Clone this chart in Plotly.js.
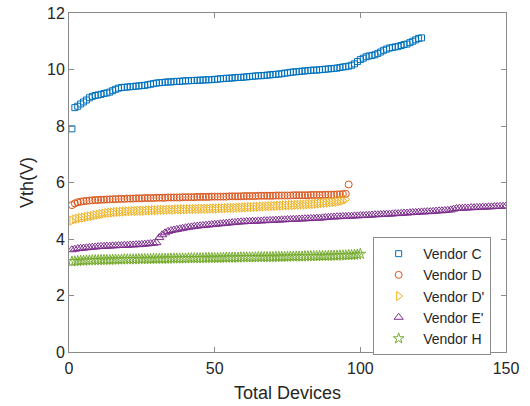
<!DOCTYPE html>
<html><head><meta charset="utf-8">
<script src="https://cdn.plot.ly/plotly-3.0.1.min.js"></script>
<style>html,body{margin:0;padding:0;background:#fff}#chart{width:530px;height:406px}</style>
</head><body><div id="chart"></div>
<script>
const seriesNames = ["Vendor C", "Vendor D", "Vendor D'", "Vendor E'", "Vendor H"];
const xTicks = [0, 50, 100, 150];
const yTicks = [0, 2, 4, 6, 8, 10, 12];

const vendorC = [7.9,8.65,8.7,8.78,8.85,8.92,9.0,9.05,9.08,9.1,
9.12,9.15,9.17,9.2,9.25,9.3,9.34,9.36,9.37,9.38,
9.39,9.4,9.41,9.42,9.43,9.44,9.46,9.48,9.5,9.52,
9.53,9.54,9.55,9.56,9.56,9.57,9.58,9.58,9.59,9.6,
9.6,9.61,9.61,9.62,9.62,9.63,9.63,9.64,9.64,9.65,
9.66,9.67,9.68,9.69,9.69,9.7,9.71,9.72,9.72,9.73,
9.74,9.75,9.76,9.77,9.78,9.78,9.79,9.8,9.81,9.82,
9.83,9.84,9.85,9.87,9.88,9.9,9.91,9.92,9.93,9.94,
9.95,9.96,9.97,9.98,9.98,9.99,10.0,10.01,10.02,10.03,
10.04,10.05,10.07,10.09,10.1,10.12,10.15,10.2,10.28,10.35,
10.4,10.45,10.48,10.5,10.52,10.57,10.62,10.68,10.72,10.76,
10.78,10.8,10.82,10.85,10.88,10.9,10.95,11.0,11.05,11.1,11.12];

const vendorD = [5.2,5.26,5.3,5.32,5.34,5.35,5.36,5.37,5.38,5.38,
5.39,5.39,5.4,5.4,5.41,5.41,5.42,5.42,5.42,5.43,
5.43,5.43,5.44,5.44,5.44,5.45,5.45,5.45,5.45,5.46,
5.46,5.46,5.46,5.47,5.47,5.47,5.47,5.47,5.48,5.48,
5.48,5.48,5.48,5.49,5.49,5.49,5.49,5.49,5.5,5.5,
5.5,5.5,5.5,5.5,5.51,5.51,5.51,5.51,5.51,5.52,
5.52,5.52,5.52,5.52,5.53,5.53,5.53,5.53,5.53,5.53,
5.54,5.54,5.54,5.54,5.54,5.54,5.55,5.55,5.55,5.55,
5.55,5.55,5.56,5.56,5.56,5.56,5.56,5.57,5.57,5.57,
5.57,5.58,5.58,5.59,5.6,5.93];

const vendorDp = [4.65,4.7,4.72,4.74,4.76,4.78,4.8,4.82,4.84,4.86,
4.88,4.9,4.92,4.93,4.94,4.95,4.96,4.97,4.97,4.98,
4.98,4.99,4.99,5.0,5.0,5.0,5.01,5.01,5.02,5.02,
5.03,5.03,5.03,5.04,5.04,5.04,5.05,5.05,5.05,5.05,
5.06,5.06,5.06,5.06,5.07,5.07,5.07,5.07,5.08,5.08,
5.08,5.09,5.09,5.09,5.1,5.1,5.1,5.11,5.11,5.12,
5.12,5.13,5.13,5.14,5.14,5.15,5.15,5.16,5.16,5.17,
5.17,5.18,5.18,5.19,5.19,5.2,5.2,5.21,5.21,5.22,
5.22,5.23,5.24,5.24,5.25,5.26,5.27,5.28,5.29,5.3,
5.31,5.32,5.34,5.36,5.4];

const vendorEp = [3.62,3.64,3.66,3.67,3.68,3.69,3.7,3.71,3.72,3.73,
3.74,3.74,3.75,3.75,3.76,3.76,3.77,3.77,3.78,3.78,
3.79,3.79,3.8,3.8,3.81,3.82,3.83,3.84,3.85,3.87,
4.05,4.15,4.22,4.27,4.3,4.32,4.34,4.36,4.38,4.4,
4.42,4.43,4.45,4.46,4.47,4.48,4.49,4.5,4.51,4.52,
4.53,4.54,4.55,4.56,4.57,4.58,4.59,4.6,4.61,4.61,
4.62,4.62,4.63,4.63,4.64,4.64,4.65,4.65,4.66,4.66,
4.67,4.67,4.68,4.68,4.69,4.69,4.7,4.7,4.71,4.71,
4.72,4.72,4.73,4.73,4.74,4.74,4.75,4.76,4.77,4.78,
4.78,4.79,4.79,4.8,4.8,4.81,4.81,4.82,4.82,4.83,
4.83,4.84,4.84,4.85,4.86,4.86,4.87,4.87,4.88,4.88,
4.89,4.9,4.9,4.91,4.92,4.92,4.93,4.94,4.94,4.95,
4.96,4.96,4.97,4.97,4.98,4.99,5.0,5.0,5.01,5.02,
5.03,5.06,5.08,5.09,5.09,5.1,5.1,5.11,5.11,5.12,
5.12,5.13,5.13,5.14,5.14,5.15,5.15,5.16,5.16,5.17];

const vendorH = [3.2,3.21,3.22,3.23,3.23,3.24,3.24,3.25,3.25,3.25,
3.26,3.26,3.26,3.26,3.27,3.27,3.27,3.27,3.28,3.28,
3.28,3.28,3.28,3.29,3.29,3.29,3.29,3.29,3.3,3.3,
3.3,3.3,3.3,3.3,3.31,3.31,3.31,3.31,3.31,3.31,
3.32,3.32,3.32,3.32,3.32,3.32,3.33,3.33,3.33,3.33,
3.33,3.33,3.34,3.34,3.34,3.34,3.34,3.34,3.35,3.35,
3.35,3.35,3.35,3.35,3.36,3.36,3.36,3.36,3.36,3.36,
3.37,3.37,3.37,3.37,3.37,3.38,3.38,3.38,3.38,3.38,
3.39,3.39,3.39,3.39,3.39,3.4,3.4,3.4,3.4,3.41,
3.41,3.41,3.42,3.42,3.42,3.43,3.43,3.44,3.45,3.47];

const seriesValues = [vendorC, vendorD, vendorDp, vendorEp, vendorH];
const colors = ['#0072BD', '#D95319', '#EDB120', '#7E2F8E', '#77AC30'];
const symbols = ['square-open', 'circle-open', 'triangle-right-open', 'triangle-up-open', 'star-open'];
const sizes = [6, 7, 8, 8, 8];

const traces = seriesValues.map((vals, i) => ({
  type: 'scatter', mode: 'markers', name: seriesNames[i],
  x: vals.map((_, k) => k + 1), y: vals,
  marker: {symbol: symbols[i], size: sizes[i], color: colors[i], line: {color: colors[i], width: 1}}
}));

const axisCommon = {
  showline: true, linecolor: '#8a8a8a', linewidth: 1, mirror: 'ticks',
  ticks: 'inside', ticklen: 5, tickcolor: '#8a8a8a', showgrid: false, zeroline: false,
  tickfont: {family: 'Liberation Sans, Arial, sans-serif', size: 16, color: '#262626'}
};

const layout = {
  width: 530, height: 406,
  margin: {l: 69, r: 24, t: 13, b: 54},
  paper_bgcolor: '#fff', plot_bgcolor: '#fff',
  font: {family: 'Liberation Sans, Arial, sans-serif', color: '#262626'},
  xaxis: Object.assign({}, axisCommon, {range: [0, 150], tickvals: xTicks, ticktext: xTicks.map(String),
    ticklabelstandoff: 2,
    title: {text: 'Total Devices', font: {size: 18, color: '#262626'}, standoff: 10}}),
  yaxis: Object.assign({}, axisCommon, {range: [0, 12], tickvals: yTicks, ticktext: yTicks.map(String),
    title: {text: 'Vth(V)', font: {size: 18, color: '#262626'}, standoff: 8}}),
  showlegend: true,
  legend: {x: 0.696, y: 0.339, xanchor: 'left', yanchor: 'top', bgcolor: '#fff',
    bordercolor: '#8a8a8a', borderwidth: 1, font: {size: 14, color: '#262626'},
    itemwidth: 39, tracegroupgap: 0}
};

Plotly.newPlot('chart', traces, layout, {displayModeBar: false, staticPlot: true});
</script></body></html>
